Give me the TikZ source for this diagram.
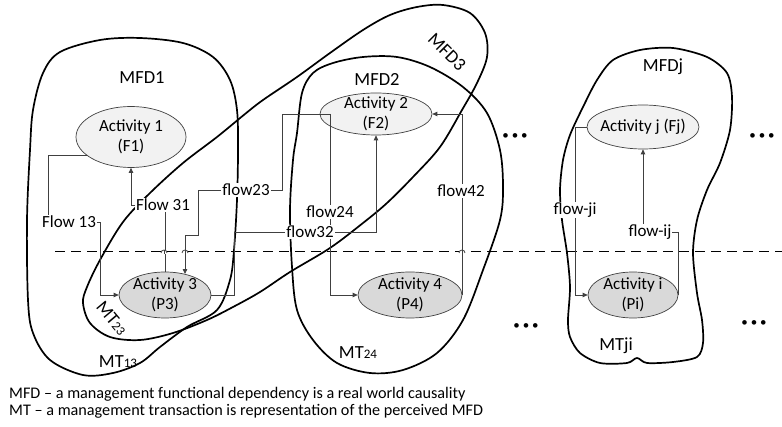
\documentclass[tikz,border=0pt]{standalone}
\usepackage{fontspec}
\setmainfont{Carlito}
\usetikzlibrary{arrows.meta,calc,shapes.geometric}
\begin{document}
\begin{tikzpicture}[x=1pt,y=-1pt,
  outline/.style={line width=1.7pt, draw=black, line join=round},
  conn/.style={draw=black!75, line width=0.8pt},
  arr/.style={conn, -{Triangle[length=5pt,width=4.5pt]}},
  actbase/.style={ellipse, draw=black!75, line width=0.7pt, inner sep=0pt},
  lightact/.style={actbase, fill=black!5},
  darkact/.style={actbase, fill=black!15},
  actext/.style={align=center, font=\fontsize{17}{20}\selectfont},
  flowlbl/.style={fill=white, inner sep=1pt, font=\fontsize{17}{20}\selectfont},
  setlbl/.style={inner sep=0pt, font=\fontsize{18.5}{20}\selectfont},
  dotslbl/.style={inner sep=0pt, font=\fontsize{13}{13}\selectfont},
  notelbl/.style={inner sep=0pt, anchor=base west, font=\fontsize{16.2}{18}\selectfont},
  hop/.style={conn}
]
\useasboundingbox (0,0) rectangle (782,427);

% ---- outlines ----
\draw[outline] plot[smooth cycle, tension=0.55] coordinates {
 (100,40) (140,38) (183,43) (213,57) (230,80) (237,110) (238,150) (237,200)
 (234,250) (230,280) (217,310) (187,327) (160,347) (140,363) (113,373) (83,375)
 (50,360) (33,333) (28,300) (27,220) (30,150) (33,110) (43,73) (60,52)};

\draw[outline] plot[smooth cycle, tension=0.55] coordinates {
 (87,287) (100,260) (123,222) (150,193) (183,163) (217,137) (245,114) (263,100)
 (297,77) (330,53) (363,30) (390,15) (417,7) (443,5) (470,13) (485,33) (487,57)
 (477,83) (462,110) (440,147) (413,177) (387,203) (363,223) (330,248) (290,272)
 (260,292) (233,307) (207,320) (173,333) (140,340) (110,337) (90,323) (83,303)};

\draw[outline] plot[smooth cycle, tension=0.55] coordinates {
 (293,160) (297,133) (302,93) (313,73) (333,63) (363,57) (397,57) (430,67)
 (463,87) (487,113) (500,150) (503,187) (500,220) (483,270) (463,320) (437,353)
 (403,370) (370,373) (337,363) (313,340) (297,310) (292,267) (290,210)};

\draw[outline] plot[smooth cycle, tension=0.5] coordinates {
 (597,80) (613,60) (640,50) (673,48) (707,57) (727,73) (732,97) (730,130)
 (720,163) (707,190) (697,220) (693,253) (697,293) (702,320) (703,343)
 (697,357) (673,362) (647,363) (637,358) (627,363) (600,363) (580,353)
 (570,337) (568,320) (570,287) (567,253) (562,220) (560,190) (563,160)
 (570,135) (583,107)};

% ---- dashed line ----
\coordinate (dl) at (55,252);
\coordinate (dr) at (782,252);
\draw[line width=1pt, dash pattern=on 10pt off 6pt] (dl) -- (dr);

% ---- activities ----
\node[lightact, minimum width=110pt, minimum height=61pt,
      label={[actext]center:Activity 1\\(F1)}] (A1) at (131,137) {};
\node[lightact, minimum width=112pt, minimum height=42pt,
      label={[actext]center:Activity 2\\(F2)}] (A2) at (376,114) {};
\node[darkact, minimum width=92pt, minimum height=46pt,
      label={[actext]center:Activity 3\\(P3)}] (A3) at (165,295) {};
\node[darkact, minimum width=104pt, minimum height=46pt,
      label={[actext]center:Activity 4\\(P4)}] (A4) at (410,295) {};
\node[lightact, minimum width=112pt, minimum height=44pt,
      label={[actext]center:Activity j (Fj)}] (Aj) at (643,127) {};
\node[darkact, minimum width=90pt, minimum height=46pt,
      label={[actext]center:Activity i\\(Pi)}] (Ai) at (633,295) {};

% ---- bend points ----
\coordinate (c13a) at (48,222);
\coordinate (c13b) at (100,295);
\coordinate (c31) at (131,205);
\coordinate (j2) at (330,114);
\coordinate (c23a) at (282,190);
\coordinate (c23b) at (198,235);
\coordinate (c23c) at (185,235);
\coordinate (c32a) at (234,232);
\coordinate (cji) at (575,127);
\coordinate (cij) at (643,232);

% ---- connectors ----
\draw[arr] (A1.203) -| (c13a) -| (c13b) -- (A3.west);
\draw[arr] (A3.north) |- (c31) -- (A1.south);
\draw[arr] (j2) -| (c23a) -| (c23b) -- (c23c) -- (c23c |- A3.46);
\draw[arr] (j2) |- (A4.west);
\draw[arr] (A3.east) -| (c32a) -| (A2.south);
\draw[arr] (A4.east) |- (A2.east);
\draw[arr] (Aj.west) -- (cji) |- (Ai.west);
\draw[arr] (Ai.east) |- (cij) -- (Aj.south);

% ---- line hops over the dashed line ----
\coordinate (h1) at (164,252);
\coordinate (h2) at (185,252);
\coordinate (h3) at (462,252);
\fill[white] ($(h1)+(-3,2)$) rectangle ($(h1)+(3,-2)$);
\fill[white] ($(h2)+(-3,2)$) rectangle ($(h2)+(3,-2)$);
\fill[white] ($(h3)+(-3,2)$) rectangle ($(h3)+(3,-2)$);
\draw[hop] ($(h1)+(-3,1)$) arc[start angle=180, end angle=0, radius=3pt];
\draw[hop] ($(h2)+(-3,1)$) arc[start angle=180, end angle=0, radius=3pt];
\draw[hop] ($(h3)+(-3,1)$) arc[start angle=180, end angle=0, radius=3pt];
\draw[conn] ($(h1)+(0,-2)$) -- ($(h1)+(0,2)$);
\draw[conn] ($(h2)+(0,-2)$) -- ($(h2)+(0,2)$);
\draw[conn] ($(h3)+(0,-2)$) -- ($(h3)+(0,2)$);

% ---- flow labels ----
\node[flowlbl] (L13) at (69,222) {Flow 13};
\node[flowlbl] (L31) at (163,205) {Flow 31};
\node[flowlbl] (L23) at (246,190) {flow23};
\node[flowlbl] (L24) at (330,212) {flow24};
\node[flowlbl] (L32) at (310,232) {flow32};
\node[flowlbl] (L42) at (461,191) {flow42};
\node[flowlbl] (Lji) at (575,210) {flow-ji};
\node[flowlbl] (Lij) at (650,232) {flow-ij};

% ---- set labels ----
\node[setlbl] (M1) at (142,78) {MFD1};
\node[setlbl] (M2) at (377,80) {MFD2};
\node[setlbl, rotate=-45] (M3) at (447,52) {MFD3};
\node[setlbl] (Mj) at (663,67) {MFDj};
\node[setlbl] (T13) at (118,362) {MT{\fontsize{13}{13}\selectfont 13}};
\node[setlbl] (T24) at (358,353) {MT{\fontsize{13}{13}\selectfont 24}};
\node[setlbl, rotate=-50] (T23) at (112,318) {MT{\fontsize{13}{13}\selectfont 23}};
\node[setlbl] (Tji) at (616,346) {MTji};

% ---- ellipses ----
\node[dotslbl] (D1) at (515,137) {\textbullet\ \textbullet\ \textbullet};
\node[dotslbl] (D2) at (762,137) {\textbullet\ \textbullet\ \textbullet};
\node[dotslbl] (D3) at (526,327) {\textbullet\ \textbullet\ \textbullet};
\node[dotslbl] (D4) at (754,324) {\textbullet\ \textbullet\ \textbullet};

% ---- notes ----
\node[notelbl] (N1) at (9,399) {MFD – a management functional dependency is a real world causality};
\node[notelbl] (N2) at (9,416) {MT – a management transaction is representation of the perceived MFD};
\end{tikzpicture}
\end{document}
